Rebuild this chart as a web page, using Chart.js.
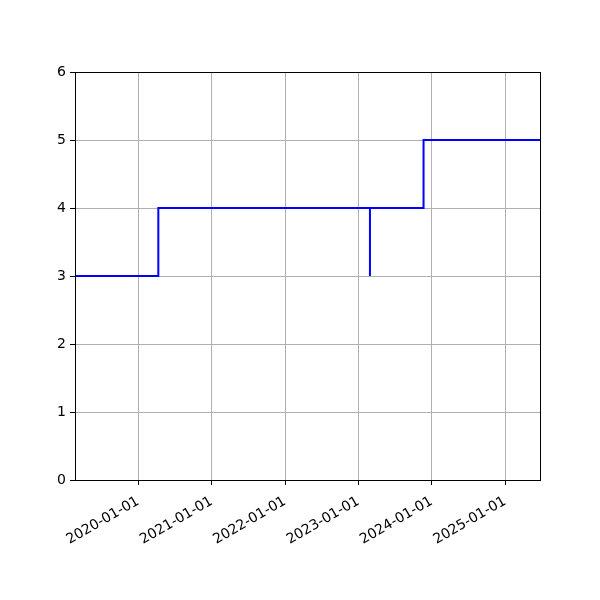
<!DOCTYPE html>
<html>
<head>
<meta charset="utf-8">
<script src="https://cdn.jsdelivr.net/npm/chart.js@4"></script>
<style>
  html, body { margin: 0; padding: 0; background: #fff; }
  #wrap { width: 600px; height: 600px; }
</style>
</head>
<body>
<div id="wrap"><canvas id="chart"></canvas></div>
<script>
// step series (post steps)
const dates = ['2019-02-20', '2020-04-10', '2023-02-28', '2023-02-28', '2023-11-22', '2025-06-24'];
const values = [3, 4, 3, 4, 5, 5];

// axis ticks
const xTickLabels = ['2020-01-01', '2021-01-01', '2022-01-01', '2023-01-01', '2024-01-01', '2025-01-01'];
const xMin = '2019-02-20';
const xMax = '2025-06-24';
const yTicks = [0, 1, 2, 3, 4, 5, 6];

const toMs = s => Date.parse(s + 'T00:00:00Z');

// frame around the plot area (matplotlib spines)
const framePlugin = {
  id: 'frame',
  afterDatasetsDraw(chart) {
    const { ctx, chartArea: a } = chart;
    ctx.save();
    ctx.strokeStyle = '#000';
    ctx.lineWidth = 1;
    ctx.strokeRect(Math.round(a.left) + 0.5, Math.round(a.top) + 0.5,
      Math.round(a.right - a.left), Math.round(a.bottom - a.top));
    ctx.restore();
  }
};

const font = { family: 'DejaVu Sans', size: 14 };

new Chart(document.getElementById('chart'), {
  type: 'line',
  data: {
    datasets: [{
      data: dates.map((d, i) => ({ x: toMs(d), y: values[i] })),
      borderColor: '#0000ff',
      borderWidth: 2,
      pointRadius: 0,
      // chart.js 'before' = horizontal then vertical, like matplotlib steps-post
      stepped: 'before',
      fill: false
    }]
  },
  options: {
    responsive: true,
    maintainAspectRatio: false,
    animation: false,
    layout: { padding: { top: 72, right: 60, left: 0, bottom: 0 } },
    plugins: { legend: { display: false }, tooltip: { enabled: false } },
    scales: {
      x: {
        type: 'linear',
        min: toMs(xMin),
        max: toMs(xMax),
        afterBuildTicks: s => { s.ticks = xTickLabels.map(t => ({ value: toMs(t) })); },
        afterFit: s => { s.height = 120; },
        border: { display: false },
        grid: { color: '#b0b0b0', lineWidth: 1, tickColor: '#000', tickLength: 5 },
        ticks: {
          color: '#000',
          font,
          padding: 8,
          minRotation: 30,
          maxRotation: 30,
          autoSkip: false,
          callback: v => new Date(v).toISOString().slice(0, 10)
        }
      },
      y: {
        min: 0,
        max: 6,
        afterBuildTicks: s => { s.ticks = yTicks.map(v => ({ value: v })); },
        afterFit: s => { s.width = 75; },
        border: { display: false },
        grid: { color: '#b0b0b0', lineWidth: 1, tickColor: '#000', tickLength: 5 },
        ticks: { color: '#000', font, padding: 4 }
      }
    }
  },
  plugins: [framePlugin]
});
</script>
</body>
</html>
